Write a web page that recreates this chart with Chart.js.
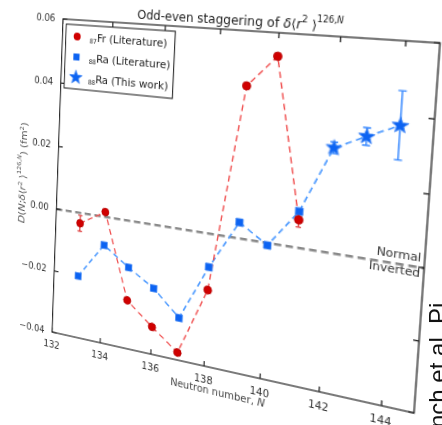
<!DOCTYPE html>
<html>
<head>
<meta charset="utf-8">
<script src="https://cdn.jsdelivr.net/npm/chart.js@4.4.1/dist/chart.umd.min.js"></script>
<style>
  html, body { margin: 0; padding: 0; background: #fff; overflow: hidden; width: 442px; height: 425px; }
  #c { position: absolute; left: 0; top: 0; transform-origin: 0 0; }
  #side { position: absolute; left: 426px; top: 428px; font: 24px "Liberation Sans", Arial, sans-serif;
          line-height: 24px; white-space: nowrap; color: #111; transform-origin: 0 0; transform: rotate(-90deg); }
</style>
</head>
<body>
<canvas id="c" width="434" height="396"></canvas>
<div id="side">nch et al. Pi</div>
<script>
// ---------- data ----------
const frN = [133, 134, 135, 136, 137, 138, 139, 140, 141];
const frVal = [-0.0033, 0.0015, -0.0248, -0.0315, -0.0377, -0.0169, 0.0443, 0.0534, 0.0080];
const frErr = [0.0025, 0, 0, 0, 0, 0, 0, 0, 0.0021];

const raN = [133, 134, 135, 136, 137, 138, 139, 140, 141];
const raVal = [-0.0202, -0.0089, -0.0145, -0.0195, -0.0270, -0.0100, 0.0047, -0.0007, 0.0104];

const starN = [142, 143, 144];
const starVal = [0.0294, 0.0335, 0.0374];
const starErr = [0.0016, 0.0024, 0.0093];

const xTicks = [132, 134, 136, 138, 140, 142, 144];
const yTicks = [-0.04, -0.02, 0.00, 0.02, 0.04, 0.06];
const xRange = [132, 145];
const yRange = [-0.04, 0.06];

const seriesLabels = ['Fr (Literature)', 'Ra (Literature)', 'Ra (This work)'];
const seriesZ = ['87', '88', '88'];

// ---------- look ----------
const RED = '#d00000', RED_LINE = '#f05252';
const BLUE = '#0c63f2', BLUE_LINE = '#4f9bff';
const FONT = '"DejaVu Sans", sans-serif';

// where the plot frame lands on the photographed page (tl, tr, br, bl)
const FRAME = [[63, 19], [440, 43], [414, 413], [52, 332]];

const pts = (xs, ys) => xs.map((x, i) => ({ x, y: ys[i] }));

// filled five point star used as the marker for "This work"
function makeStar(r) {
  const s = Math.ceil(r * 2 + 3), c = document.createElement('canvas');
  c.width = s; c.height = s;
  const g = c.getContext('2d');
  g.beginPath();
  for (let k = 0; k < 10; k++) {
    const rad = k % 2 ? r * 0.42 : r, a = -Math.PI / 2 + k * Math.PI / 5;
    g.lineTo(s / 2 + rad * Math.cos(a), s / 2 + rad * Math.sin(a));
  }
  g.closePath();
  g.fillStyle = BLUE; g.fill();
  g.strokeStyle = '#3f85f5'; g.lineWidth = 0.8; g.stroke();
  return c;
}
const STAR = makeStar(7.5);

// solve the 4-point perspective mapping, return CSS matrix3d
function homography(src, dst) {
  const A = [], B = [];
  for (let i = 0; i < 4; i++) {
    const [x, y] = src[i], [u, v] = dst[i];
    A.push([x, y, 1, 0, 0, 0, -x * u, -y * u]); B.push(u);
    A.push([0, 0, 0, x, y, 1, -x * v, -y * v]); B.push(v);
  }
  for (let i = 0; i < 8; i++) {
    let p = i;
    for (let r = i + 1; r < 8; r++) if (Math.abs(A[r][i]) > Math.abs(A[p][i])) p = r;
    [A[i], A[p]] = [A[p], A[i]]; [B[i], B[p]] = [B[p], B[i]];
    for (let r = 0; r < 8; r++) {
      if (r === i) continue;
      const f = A[r][i] / A[i][i];
      for (let c = i; c < 8; c++) A[r][c] -= f * A[i][c];
      B[r] -= f * B[i];
    }
  }
  const [a, b, c, d, e, f, g, h] = B.map((v, i) => v / A[i][i]);
  return `matrix3d(${a},${d},0,${g},${b},${e},0,${h},0,0,1,0,${c},${f},0,1)`;
}

const fontOf = p => `${p.i ? 'italic ' : ''}${p.s}px ${FONT}`;
function rich(ctx, parts, x, y, align) {
  let w = 0;
  parts.forEach(p => { ctx.font = fontOf(p); w += ctx.measureText(p.t).width; });
  let cx = align === 'center' ? x - w / 2 : x;
  ctx.textAlign = 'left'; ctx.textBaseline = 'alphabetic';
  parts.forEach(p => {
    ctx.font = fontOf(p);
    ctx.fillText(p.t, cx, y + (p.dy || 0));
    cx += ctx.measureText(p.t).width;
  });
}

const TITLE = [
  { t: 'Odd-even staggering of ', s: 12 }, { t: 'δ', s: 12, i: true }, { t: '⟨', s: 12 },
  { t: 'r', s: 12, i: true }, { t: '2', s: 8.5, dy: -6 }, { t: ' ⟩', s: 12 },
  { t: '126,', s: 8, dy: -7 }, { t: 'N', s: 8, i: true, dy: -7 }
];
const YLABEL = [
  { t: 'D', s: 11, i: true }, { t: '(', s: 11 }, { t: 'N', s: 11, i: true }, { t: ';', s: 11 },
  { t: 'δ', s: 11, i: true }, { t: '⟨', s: 11 }, { t: 'r', s: 11, i: true }, { t: '2', s: 7, dy: -4 },
  { t: ' ⟩', s: 11 }, { t: '126,', s: 7, dy: -6 }, { t: 'N', s: 7, i: true, dy: -6 },
  { t: ')', s: 11 }, { t: ' (fm', s: 11 }, { t: '2', s: 7, dy: -4 }, { t: ')', s: 11 }
];
const XLABEL = [{ t: 'Neutron number, ', s: 10 }, { t: 'N', s: 10, i: true }];

const decor = {
  id: 'decor',
  afterLayout(chart) {
    const a = chart.chartArea;
    const src = [[a.left, a.top], [a.right, a.top], [a.right, a.bottom], [a.left, a.bottom]];
    chart.canvas.style.transform = homography(src, FRAME);
  },
  beforeDatasetsDraw(chart) {
    const { ctx, scales: { x, y } } = chart;
    const bar = (n, v, e, cap) => {
      if (!e) return;
      const px = x.getPixelForValue(n), y1 = y.getPixelForValue(v - e), y2 = y.getPixelForValue(v + e);
      ctx.beginPath();
      ctx.moveTo(px, y1); ctx.lineTo(px, y2);
      ctx.moveTo(px - cap, y1); ctx.lineTo(px + cap, y1);
      ctx.moveTo(px - cap, y2); ctx.lineTo(px + cap, y2);
      ctx.stroke();
    };
    ctx.save();
    ctx.lineWidth = 1.4;
    ctx.strokeStyle = '#e04545';
    frN.forEach((n, i) => bar(n, frVal[i], frErr[i], 2.5));
    ctx.strokeStyle = '#3d8cff';
    starN.forEach((n, i) => bar(n, starVal[i], starErr[i], 3.5));
    ctx.restore();
  },
  afterDraw(chart) {
    const { ctx, chartArea: a, scales: { x, y } } = chart;
    ctx.save();
    // frame + inward ticks
    ctx.strokeStyle = '#222'; ctx.lineWidth = 1.2;
    ctx.strokeRect(a.left, a.top, a.width, a.height);
    ctx.beginPath();
    xTicks.forEach(v => {
      const px = x.getPixelForValue(v);
      ctx.moveTo(px, a.bottom); ctx.lineTo(px, a.bottom - 5);
      ctx.moveTo(px, a.top); ctx.lineTo(px, a.top + 5);
    });
    yTicks.forEach(v => {
      const py = y.getPixelForValue(v);
      ctx.moveTo(a.left, py); ctx.lineTo(a.left + 5, py);
      ctx.moveTo(a.right, py); ctx.lineTo(a.right - 5, py);
    });
    ctx.stroke();

    // Normal / Inverted
    const y0 = y.getPixelForValue(0);
    ctx.fillStyle = '#333'; ctx.font = `10.5px ${FONT}`; ctx.textAlign = 'right';
    ctx.fillText('Normal', a.right - 3, y0 - 5);
    ctx.fillText('Inverted', a.right - 3, y0 + 9);

    // title and axis labels
    ctx.fillStyle = '#222';
    rich(ctx, TITLE, (a.left + a.right) / 2, a.top - 5, 'center');
    ctx.fillStyle = '#444';
    rich(ctx, XLABEL, (a.left + a.right) / 2, a.bottom + 27, 'center');
    ctx.save();
    ctx.translate(a.left - 42, (a.top + a.bottom) / 2);
    ctx.rotate(-Math.PI / 2);
    ctx.fillStyle = '#555';
    rich(ctx, YLABEL, 0, 4, 'center');
    ctx.restore();

    // legend box
    const bx = a.left + 4, by = a.top + 5, bw = 119, bh = 66;
    ctx.fillStyle = '#fff'; ctx.fillRect(bx, by, bw, bh);
    ctx.strokeStyle = '#111'; ctx.lineWidth = 1; ctx.strokeRect(bx, by, bw, bh);
    const rows = [by + 12, by + 33, by + 54], mx = bx + 13;
    ctx.fillStyle = RED; ctx.beginPath(); ctx.arc(mx, rows[0], 4, 0, Math.PI * 2); ctx.fill();
    ctx.fillStyle = BLUE; ctx.fillRect(mx - 3.5, rows[1] - 3.5, 7, 7);
    ctx.drawImage(STAR, mx - STAR.width / 2, rows[2] - STAR.height / 2);
    ctx.fillStyle = '#222';
    seriesLabels.forEach((lab, i) => {
      rich(ctx, [{ t: seriesZ[i], s: 6.5, dy: 2 }, { t: lab, s: 11 }], bx + 27, rows[i] + 4, 'left');
    });
    ctx.restore();
  }
};

new Chart(document.getElementById('c'), {
  type: 'scatter',
  data: {
    datasets: [
      { label: 'zero', data: pts(xRange, [0, 0]), showLine: true, borderColor: '#8a8a8a', borderWidth: 2.5,
        borderDash: [7, 4], pointRadius: 0, order: 5 },
      { label: 'Fr line', data: pts(frN, frVal), showLine: true, borderColor: RED_LINE, borderWidth: 1.4,
        borderDash: [6, 4], pointRadius: 0, order: 3 },
      { label: 'Ra line', data: pts(raN.concat(starN), raVal.concat(starVal)), showLine: true,
        borderColor: BLUE_LINE, borderWidth: 1.6, borderDash: [6, 4], pointRadius: 0, order: 3 },
      { label: seriesZ[0] + seriesLabels[0], data: pts(frN, frVal), pointStyle: 'circle', pointRadius: 4,
        backgroundColor: RED, borderColor: '#b80000', borderWidth: 0.8, order: 1 },
      { label: seriesZ[1] + seriesLabels[1], data: pts(raN, raVal), pointStyle: 'rect', pointRadius: 5,
        backgroundColor: BLUE, borderColor: '#3f85f5', borderWidth: 0.8, order: 1 },
      { label: seriesZ[2] + seriesLabels[2], data: pts(starN, starVal), pointStyle: STAR, order: 0 }
    ]
  },
  options: {
    responsive: false,
    animation: false,
    events: [],
    layout: { padding: { top: 24, left: 14, right: 14, bottom: 20 } },
    plugins: { legend: { display: false }, tooltip: { enabled: false }, title: { display: false } },
    scales: {
      x: {
        type: 'linear', min: xRange[0], max: xRange[1],
        afterBuildTicks: s => { s.ticks = xTicks.map(value => ({ value })); },
        grid: { display: false }, border: { display: false },
        ticks: { font: { family: FONT, size: 10 }, color: '#333', padding: 0, maxRotation: 0 }
      },
      y: {
        min: yRange[0], max: yRange[1],
        afterBuildTicks: s => { s.ticks = yTicks.map(value => ({ value })); },
        grid: { display: false }, border: { display: false },
        ticks: { font: { family: FONT, size: 10 }, color: '#333', padding: 1,
          callback: v => (v < -1e-9 ? '\u2212' : '') + Math.abs(v).toFixed(2) }
      }
    }
  },
  plugins: [decor]
});
</script>
</body>
</html>
